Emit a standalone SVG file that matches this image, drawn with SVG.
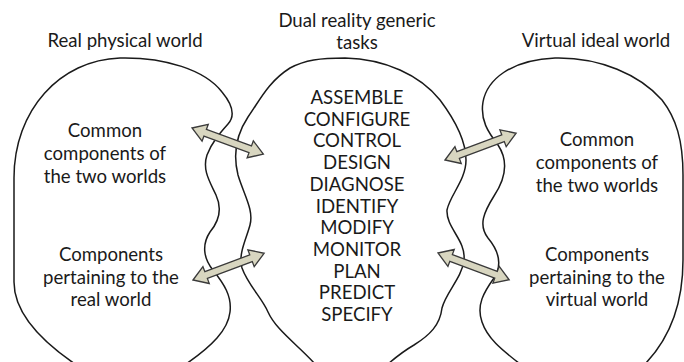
<svg xmlns="http://www.w3.org/2000/svg" xmlns:xlink="http://www.w3.org/1999/xlink" width="684" height="362" viewBox="0 0 684 362">
<style>
.shape{fill:none;stroke:#1a1a1a;stroke-width:1.5;stroke-linejoin:round;stroke-linecap:round}
.t{font-family:Lato,"Liberation Sans",sans-serif;font-size:18.6px;fill:#1a1a1a;text-anchor:middle}
.arr{fill:#d8d6c0;stroke:#3a3a3a;stroke-width:1.3;stroke-linejoin:miter}
</style>
<defs>
<polygon id="arr" class="arr" points="0,0 14,-9 14,-3.6 62,-3.6 62,-9 76,0 62,9 62,3.6 14,3.6 14,9"/>
</defs>
<rect width="684" height="362" fill="#ffffff"/>
<g id="real-world">
<path class="shape" d="M75,364 C40,340 14,312 14,282 L14,178 C14,110 60,60 120,58 C165,57 205,70 222,92 C232,104 236,115 228,124 C220,133 212,142 207,155 C202,170 210,182 216,195 C222,208 220,220 210,232 C202,244 203,258 213,270 C224,284 232,296 230,312 C228,330 212,346 186,364"/>
<text class="t" x="125" y="47">Real physical world</text>
<text class="t" x="105" y="137">Common</text>
<text class="t" x="105" y="160">components of</text>
<text class="t" x="105" y="183">the two worlds</text>
<text class="t" x="111" y="261">Components</text>
<text class="t" x="111" y="284">pertaining to the</text>
<text class="t" x="111" y="306">real world</text>
</g>
<g id="tasks">
<path class="shape" d="M315,364 C298,345 276,330 268,312 C262,298 248,285 242,268 C238,254 246,240 250,225 C254,210 244,195 238,175 C233,155 236,135 248,117 C260,100 268,82 290,68 C305,60 320,58 345,58 C385,59 420,75 440,100 C455,120 466,140 466,160 C466,180 450,195 447,210 C446,228 466,240 464,260 C462,278 446,292 442,308 C440,325 430,335 414,345 C402,352 395,358 388,364"/>
<text class="t" x="357" y="27">Dual reality generic</text>
<text class="t" x="357" y="49">tasks</text>
<text class="t" x="357" y="104">ASSEMBLE</text>
<text class="t" x="357" y="125.7">CONFIGURE</text>
<text class="t" x="357" y="147.4">CONTROL</text>
<text class="t" x="357" y="169.1">DESIGN</text>
<text class="t" x="357" y="190.8">DIAGNOSE</text>
<text class="t" x="357" y="212.5">IDENTIFY</text>
<text class="t" x="357" y="234.2">MODIFY</text>
<text class="t" x="357" y="255.9">MONITOR</text>
<text class="t" x="357" y="277.6">PLAN</text>
<text class="t" x="357" y="299.3">PREDICT</text>
<text class="t" x="357" y="321">SPECIFY</text>
</g>
<g id="virtual-world">
<path class="shape" d="M520,364 C505,352 488,340 482,322 C476,305 484,292 494,278 C503,264 498,250 488,238 C478,225 484,212 494,196 C506,178 508,160 498,145 C488,132 480,120 483,102 C487,80 510,60 555,58 C600,57 640,75 662,100 C676,118 683,140 683,175 L683,260 C683,300 673,335 645,364"/>
<text class="t" x="596" y="47">Virtual ideal world</text>
<text class="t" x="597" y="146">Common</text>
<text class="t" x="597" y="169">components of</text>
<text class="t" x="597" y="192">the two worlds</text>
<text class="t" x="597" y="261">Components</text>
<text class="t" x="597" y="284">pertaining to the</text>
<text class="t" x="597" y="306">virtual world</text>
</g>
<g id="connectors">
<use xlink:href="#arr" transform="translate(192,128) rotate(20.1)"/>
<use xlink:href="#arr" transform="translate(193,280) rotate(-20.6)"/>
<use xlink:href="#arr" transform="translate(445,160) rotate(-20.6)"/>
<use xlink:href="#arr" transform="translate(438,253) rotate(20.6)"/>
</g>
</svg>
